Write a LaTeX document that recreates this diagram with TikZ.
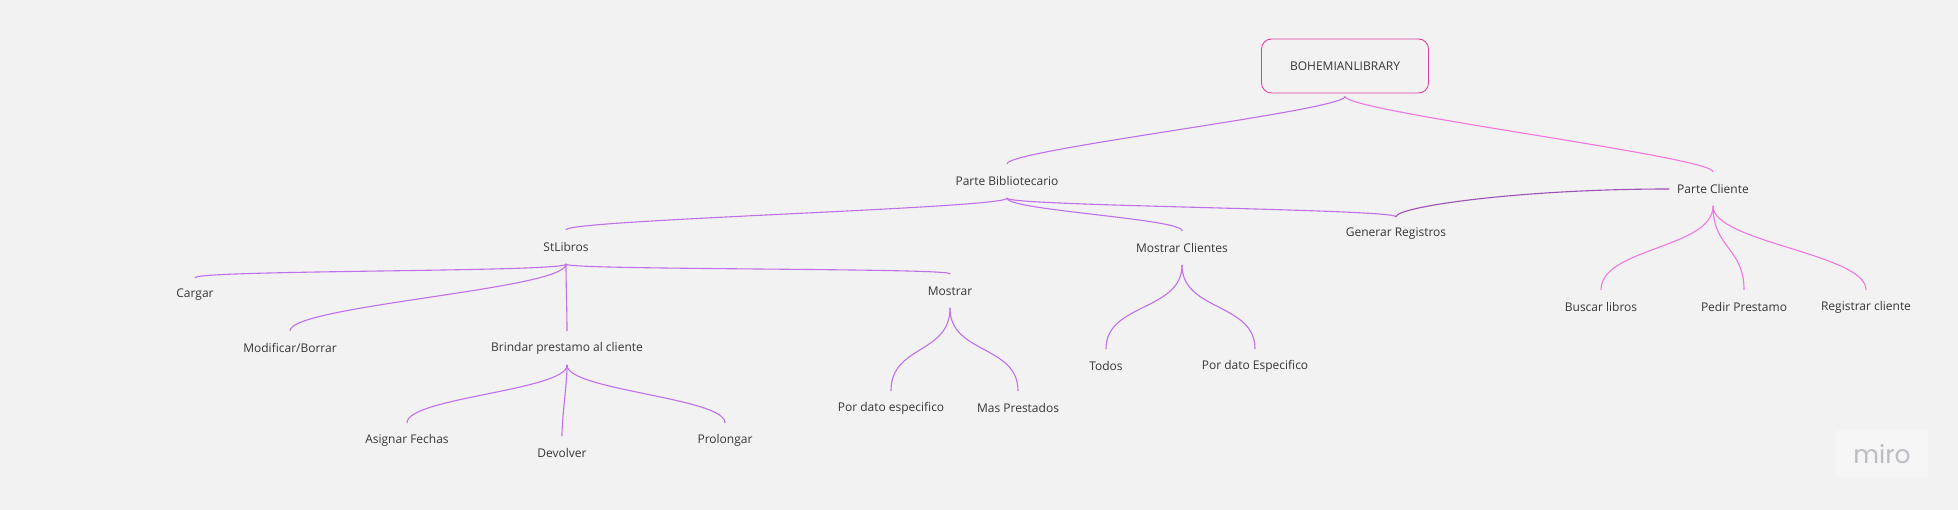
\documentclass[tikz,border=0pt]{standalone}
\usepackage{fontspec}
\setmainfont{Open Sans}
\newfontfamily\logofont{Poppins}
\usetikzlibrary{calc}
\definecolor{bgc}{HTML}{F2F2F2}
\definecolor{txt}{HTML}{363636}
\definecolor{vio}{HTML}{C070E8}
\definecolor{pnk}{HTML}{EE78E0}
\definecolor{dvio}{HTML}{9B51B8}
\definecolor{rootc}{HTML}{E0409A}
\definecolor{logoc}{HTML}{BCBCC6}
\definecolor{logobg}{HTML}{F5F5F5}
\tikzset{
  lbl/.style={font=\fontsize{12}{14}\selectfont, text=txt, inner sep=0pt, minimum height=34pt, anchor=center},
  rootbox/.style={draw=rootc, line width=0.9pt, rounded corners=10pt, minimum width=167pt, minimum height=54pt, font=\fontsize{12}{14}\selectfont, text=txt, fill=bgc},
  conn/.style={line width=1.1pt, line cap=round},
  cv/.style={to path={.. controls ($(\tikztostart)+(0,#1)$) and ($(\tikztotarget)+(0,-#1)$) .. (\tikztotarget)}},
  cv/.default=15
}
\begin{document}
\begin{tikzpicture}[x=1pt,y=-1pt]
\fill[bgc] (0,0) rectangle (1958,510);
\useasboundingbox (0,0) rectangle (1958,510);

% nodes
\node[rootbox] (root) at (1345,66) {BOHEMIANLIBRARY};
\node[lbl] (pb) at (1007,181) {Parte Bibliotecario};
\node[lbl] (pc) at (1713,189) {Parte Cliente};
\node[lbl] (gr) at (1396,234) {Generar Registros};
\node[lbl] (st) at (566,247) {StLibros};
\node[lbl] (mc) at (1182,248) {Mostrar Clientes};
\node[lbl] (cargar) at (195,295) {Cargar};
\node[lbl] (mod) at (290,348) {Modificar/Borrar};
\node[lbl] (brindar) at (567,348) {Brindar prestamo al cliente};
\node[lbl] (mostrar) at (950,291) {Mostrar};
\node[lbl] (asig) at (407,440) {Asignar Fechas};
\node[lbl] (dev) at (562,453) {Devolver};
\node[lbl] (prol) at (725,440) {Prolongar};
\node[lbl] (pde) at (891,408) {Por dato especifico};
\node[lbl] (mas) at (1018,408) {Mas Prestados};
\node[lbl] (todos) at (1106,366) {Todos};
\node[lbl] (pdE) at (1255,366) {Por dato Especifico};
\node[lbl] (buscar) at (1601,307) {Buscar libros};
\node[lbl] (pedir) at (1744,307) {Pedir Prestamo};
\node[lbl] (reg) at (1866,307) {Registrar cliente};

% connectors
\draw[conn, vio] ($(root.south)+(0,3)$) to[cv=14] (pb.north);
\draw[conn, pnk] ($(root.south)+(0,3)$) to[cv=15] (pc.north);

\draw[conn, vio] (pb.south) to[cv=10] (st.north);
\draw[conn, vio] (pb.south) to[cv=12] (mc.north);
\draw[conn, vio] (pb.south) to[cv=8] (gr.north);
\draw[conn, dvio] ($(pc.west)+(-8,0)$) .. controls +(-150,0) and +(0,-10) .. (gr.north);

\draw[conn, vio] (st.south) to[cv=8] (cargar.north);
\draw[conn, vio] (st.south) to[cv=25] (mod.north);
\draw[conn, vio] (st.south) to[cv=20] (brindar.north);
\draw[conn, vio] (st.south) to[cv=6] (mostrar.north);

\draw[conn, vio] (mostrar.south) to[cv=46] (pde.north);
\draw[conn, vio] (mostrar.south) to[cv=46] (mas.north);

\draw[conn, vio] (mc.south) to[cv=46] (todos.north);
\draw[conn, vio] (mc.south) to[cv=46] (pdE.north);

\draw[conn, vio] (brindar.south) to[cv=25] (asig.north);
\draw[conn, vio] (brindar.south) to[cv=20] (dev.north);
\draw[conn, vio] (brindar.south) to[cv=25] (prol.north);

\draw[conn, pnk] (pc.south) to[cv=42] (buscar.north);
\draw[conn, pnk] (pc.south) to[cv=42] (pedir.north);
\draw[conn, pnk] (pc.south) to[cv=36] (reg.north);

% logo
\node[fill=logobg, minimum width=92pt, minimum height=48pt, inner sep=0pt, font=\logofont\fontsize{25}{28}\selectfont, text=logoc] (logo) at (1882,454) {miro};
\end{tikzpicture}
\end{document}
